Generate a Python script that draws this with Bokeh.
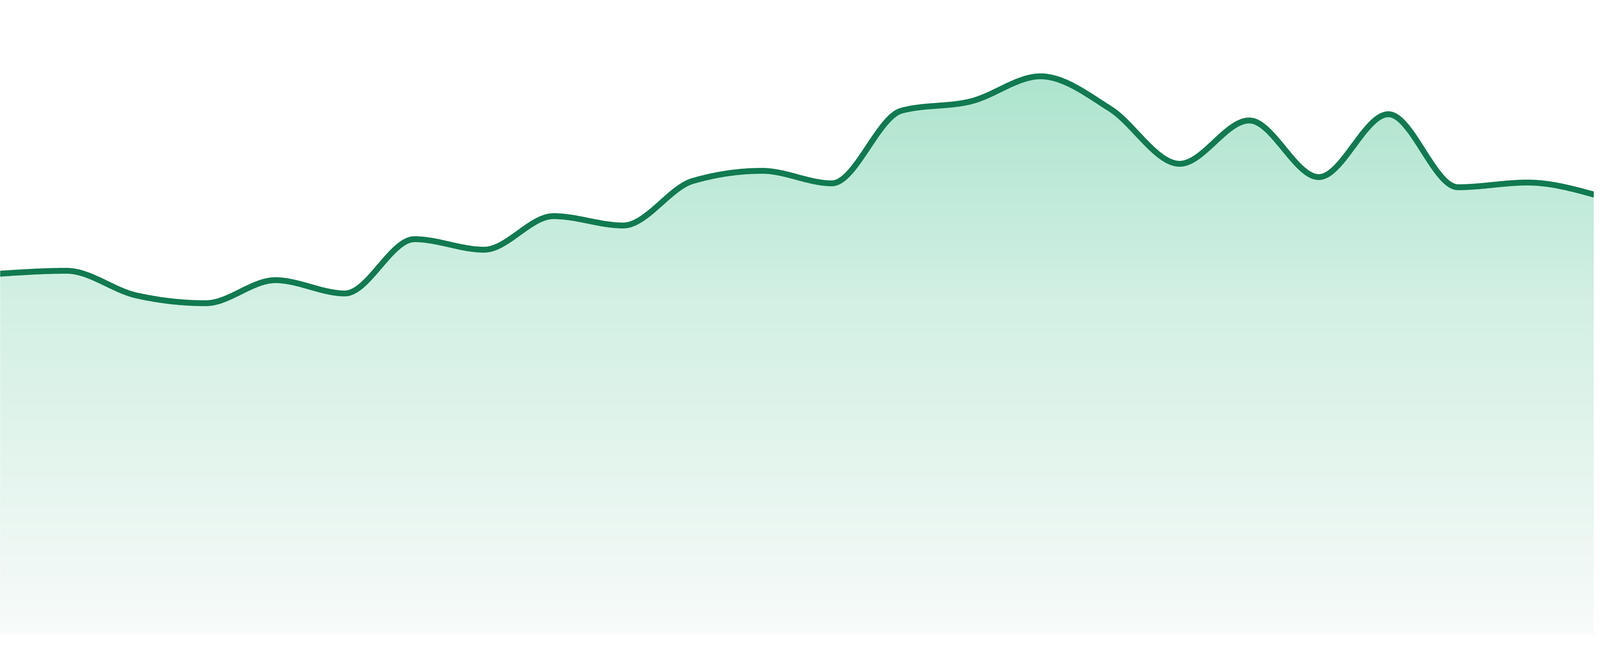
import numpy as np
from bokeh.plotting import figure
from bokeh.models import Range1d
from bokeh.embed import file_html
from bokeh.resources import INLINE

# ---------------- data ----------------
periods = list(range(24))
values = [923, 931, 868, 848, 907, 873, 1012, 985, 1071, 1047, 1161, 1187,
          1155, 1341, 1365, 1429, 1346, 1205, 1316, 1171, 1332, 1145, 1157, 1124]

# ---------------- style ----------------
LINE_COLOR = "#117a50"
LINE_WIDTH = 15
GRAD_POS = [0.0, 180.0, 832.0, 1429.0, 1700.0]
GRAD_COL = ["#f8fbfa", "#eff8f4", "#d3f0e4", "#ade4ce", "#a6e1c8"]
BAND = 4.0

# the visible page is 4096 css px wide and 1680 tall
X_SCALE = 4800.0 / 4096.0
W, H = 4080, 1664
PX_PER_UNIT_X = (4800.0 / X_SCALE) / (len(periods) - 1)   # CSS px per period
X0 = 8.0 / PX_PER_UNIT_X
Y_TOP = 1632.0 - 8.0
Y_BOT = Y_TOP - H


# ------------- monotone-x curve (d3 style) -------------
def _sign(v):
    return -1.0 if v < 0 else 1.0


def monotone_tangents(x, y):
    n = len(x)
    t = [0.0] * n
    for i in range(1, n - 1):
        h0 = x[i] - x[i - 1]
        h1 = x[i + 1] - x[i]
        s0 = (y[i] - y[i - 1]) / h0
        s1 = (y[i + 1] - y[i]) / h1
        p = (s0 * h1 + s1 * h0) / (h0 + h1)
        t[i] = (_sign(s0) + _sign(s1)) * min(abs(s0), abs(s1), 0.5 * abs(p))
    h = x[1] - x[0]
    t[0] = (3 * (y[1] - y[0]) / h - t[1]) / 2
    h = x[-1] - x[-2]
    t[-1] = (3 * (y[-1] - y[-2]) / h - t[-2]) / 2
    return t


def sample_curve(x, y, per_seg=40):
    t = monotone_tangents(x, y)
    xs, ys = [], []
    for i in range(len(x) - 1):
        x0, y0, x1, y1 = x[i], y[i], x[i + 1], y[i + 1]
        dx = (x1 - x0) / 3.0
        p0 = np.array([x0, y0])
        p1 = np.array([x0 + dx, y0 + dx * t[i]])
        p2 = np.array([x1 - dx, y1 - dx * t[i + 1]])
        p3 = np.array([x1, y1])
        u = np.linspace(0, 1, per_seg, endpoint=(i == len(x) - 2))
        u = u[:, None]
        pts = ((1 - u) ** 3) * p0 + 3 * ((1 - u) ** 2) * u * p1 + 3 * (1 - u) * u ** 2 * p2 + u ** 3 * p3
        xs.append(pts[:, 0])
        ys.append(pts[:, 1])
    return np.concatenate(xs), np.concatenate(ys)


def hex_rgb(h):
    h = h.lstrip("#")
    return [int(h[i:i + 2], 16) for i in (0, 2, 4)]


grad_rgb = np.array([hex_rgb(c) for c in GRAD_COL], dtype=float)


def grad_color(v):
    r = np.interp(v, GRAD_POS, grad_rgb[:, 0])
    g = np.interp(v, GRAD_POS, grad_rgb[:, 1])
    b = np.interp(v, GRAD_POS, grad_rgb[:, 2])
    return "#%02x%02x%02x" % (int(round(r)), int(round(g)), int(round(b)))


cx, cy = sample_curve([float(p) for p in periods], [float(v) for v in values])

# gradient bands clipped under the curve
band_xs, band_ys, band_cols = [], [], []
ymin = cy.min()
top = cy.max()
b0 = 0.0
while b0 < top:
    b1 = b0 + BAND
    lo = b0 - 0.9 if b0 > 0 else b0
    col = grad_color((b0 + b1) / 2.0)
    if b1 <= ymin:
        band_xs.append([cx[0], cx[-1], cx[-1], cx[0]])
        band_ys.append([lo, lo, b1, b1])
    else:
        upper = np.minimum(cy, b1)
        lower = np.minimum(cy, lo)
        mask = cy > lo
        idx = np.where(mask)[0]
        keep = np.zeros_like(mask)
        keep[idx] = True
        keep[np.clip(idx - 1, 0, len(cy) - 1)] = True
        keep[np.clip(idx + 1, 0, len(cy) - 1)] = True
        xk = cx[keep]
        band_xs.append(np.concatenate([xk, xk[::-1]]).tolist())
        band_ys.append(np.concatenate([upper[keep], lower[keep][::-1]]).tolist())
    band_cols.append(col)
    b0 = b1

p = figure(width=W, height=H, output_backend="svg", toolbar_location=None,
           x_range=Range1d(X0, (len(periods) - 1) - X0),
           y_range=Range1d(Y_BOT, Y_TOP),
           x_axis_location=None, y_axis_location=None,
           min_border=0, outline_line_color=None,
           background_fill_color="white", border_fill_color="white")
p.grid.visible = False

p.patches(band_xs, band_ys, fill_color=band_cols, line_color=None)
p.line(cx, cy, line_color=LINE_COLOR, line_width=LINE_WIDTH,
       line_join="round", line_cap="round")

open("out.html", "w").write(file_html(p, INLINE))
